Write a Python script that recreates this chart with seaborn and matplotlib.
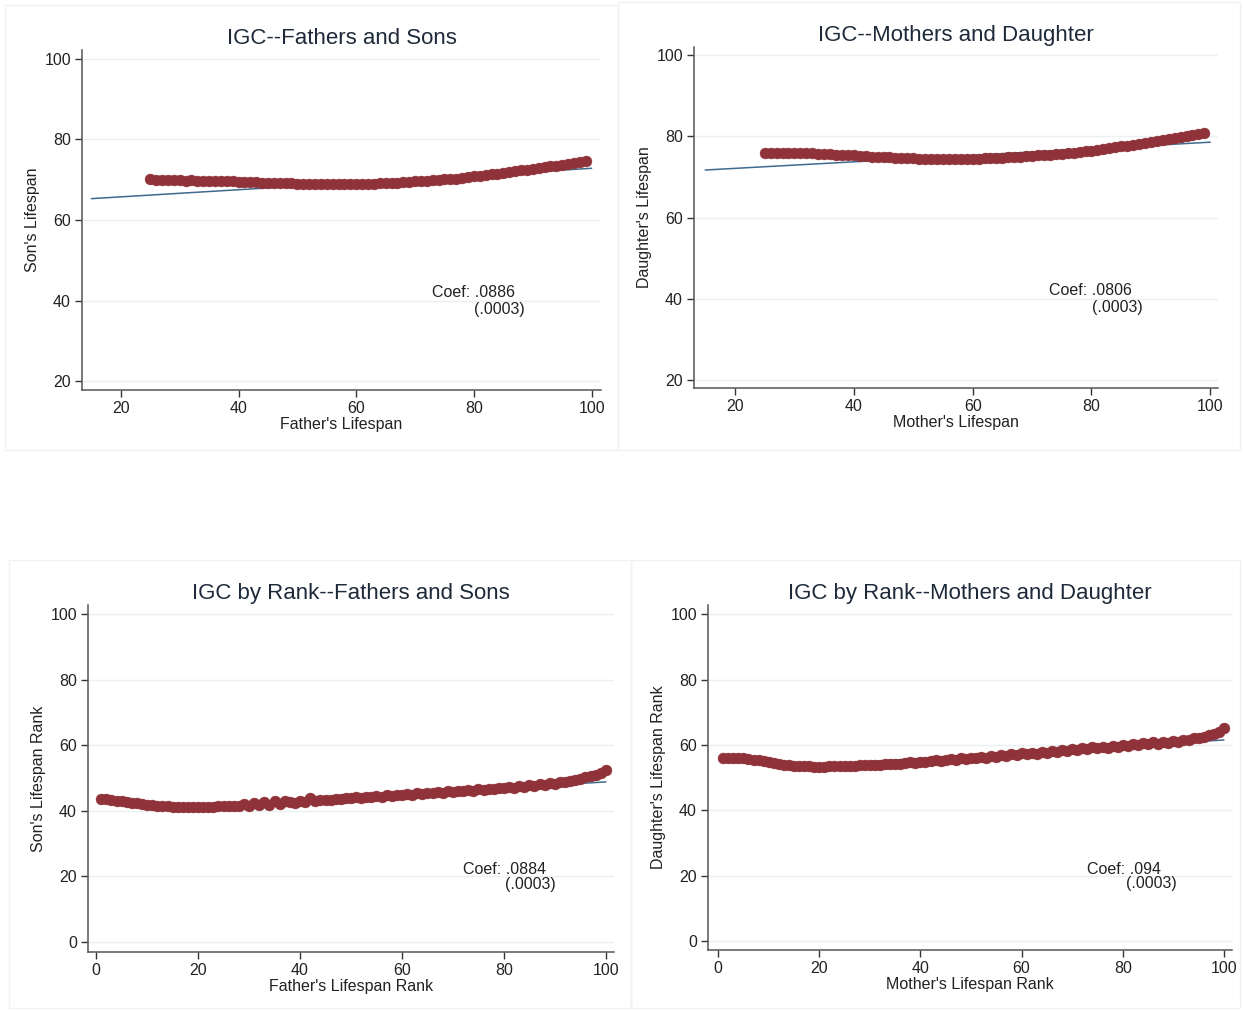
# plot.py
# Gráficos de IGC (4 painéis, estilo Stata) com seaborn

import numpy as np
import pandas as pd
import matplotlib
matplotlib.use('Agg')
import matplotlib.pyplot as plt
import seaborn as sns
from matplotlib.patches import Rectangle

# ---- dados ----
titulos = ['IGC--Fathers and Sons', 'IGC--Mothers and Daughter',
           'IGC by Rank--Fathers and Sons', 'IGC by Rank--Mothers and Daughter']
rotulos_x = ["Father's Lifespan", "Mother's Lifespan",
             "Father's Lifespan Rank", "Mother's Lifespan Rank"]
rotulos_y = ["Son's Lifespan", "Daughter's Lifespan",
             "Son's Lifespan Rank", "Daughter's Lifespan Rank"]
coefs = ['Coef: .0886', 'Coef: .0806', 'Coef: .0884', 'Coef: .094']
erros = ['(.0003)', '(.0003)', '(.0003)', '(.0003)']

idade_x = list(range(25, 100))
filhos_y = [70.2, 70.0, 70.0, 69.9, 69.9, 69.9, 69.8, 69.9, 69.8, 69.8,
            69.7, 69.7, 69.6, 69.6, 69.6, 69.5, 69.5, 69.4, 69.4, 69.3,
            69.3, 69.2, 69.2, 69.1, 69.1, 69.0, 69.0, 69.0, 68.9, 68.9,
            68.9, 68.9, 68.9, 68.9, 68.9, 68.9, 68.9, 69.0, 69.0, 69.1,
            69.1, 69.2, 69.3, 69.4, 69.5, 69.6, 69.7, 69.8, 69.9, 70.0,
            70.1, 70.2, 70.3, 70.5, 70.6, 70.8, 71.0, 71.1, 71.3, 71.5,
            71.7, 71.9, 72.1, 72.3, 72.5, 72.7, 72.9, 73.1, 73.3, 73.5,
            73.7, 73.9, 74.1, 74.3, 74.6]
filhas_y = [75.9, 76.0, 76.0, 76.0, 76.0, 75.9, 75.9, 75.8, 75.8, 75.7,
            75.7, 75.6, 75.5, 75.5, 75.4, 75.3, 75.2, 75.1, 75.0, 75.0,
            74.9, 74.8, 74.7, 74.7, 74.6, 74.6, 74.5, 74.5, 74.4, 74.4,
            74.4, 74.4, 74.4, 74.4, 74.5, 74.5, 74.5, 74.6, 74.6, 74.7,
            74.7, 74.8, 74.9, 75.0, 75.1, 75.2, 75.3, 75.4, 75.5, 75.6,
            75.7, 75.9, 76.0, 76.2, 76.3, 76.5, 76.7, 76.9, 77.1, 77.3,
            77.5, 77.7, 77.9, 78.1, 78.3, 78.6, 78.8, 79.0, 79.3, 79.5,
            79.8, 80.0, 80.3, 80.6, 80.9]

rank_x = list(range(1, 101))
rank_filhos_y = [43.7, 43.5, 43.3, 43.1, 42.9, 42.7, 42.5, 42.3, 42.1, 41.9,
                 41.8, 41.6, 41.5, 41.4, 41.3, 41.3, 41.2, 41.2, 41.2, 41.2,
                 41.2, 41.3, 41.3, 41.4, 41.4, 41.5, 41.6, 41.5, 42.0, 41.6,
                 42.3, 41.7, 42.8, 41.8, 43.1, 42.0, 43.0, 42.6, 42.4, 43.0,
                 42.6, 44.0, 42.9, 43.2, 43.4, 43.4, 43.6, 43.6, 43.8, 43.9,
                 44.1, 43.9, 44.3, 44.1, 44.5, 44.3, 44.7, 44.5, 44.9, 44.7,
                 45.1, 44.9, 45.3, 45.1, 45.5, 45.3, 45.7, 45.5, 45.9, 45.7,
                 46.1, 45.9, 46.3, 46.1, 46.6, 46.4, 46.8, 46.6, 47.1, 46.9,
                 47.3, 47.1, 47.6, 47.4, 47.9, 47.7, 48.1, 48.0, 48.4, 48.3,
                 48.7, 48.7, 49.1, 49.4, 49.8, 50.2, 50.6, 51.0, 51.5, 52.4]
rank_filhas_y = [55.9, 56.0, 56.0, 56.0, 55.9, 55.7, 55.5, 55.3, 55.0, 54.7,
                 54.4, 54.1, 53.9, 53.7, 53.6, 53.5, 53.4, 53.4, 53.3, 53.3,
                 53.3, 53.4, 53.4, 53.5, 53.5, 53.6, 53.6, 53.7, 53.8, 53.9,
                 54.0, 54.0, 54.3, 54.1, 54.3, 54.3, 54.5, 54.7, 54.5, 54.9,
                 54.8, 55.1, 55.3, 55.2, 55.5, 55.8, 55.5, 55.9, 55.8, 56.1,
                 55.9, 56.4, 56.1, 56.6, 56.3, 56.8, 56.6, 57.1, 56.8, 57.4,
                 57.1, 57.6, 57.3, 57.9, 57.6, 58.2, 57.9, 58.5, 58.0, 58.8,
                 58.3, 59.0, 58.6, 59.3, 58.9, 59.5, 59.2, 59.8, 59.4, 60.0,
                 59.7, 60.3, 59.9, 60.5, 60.2, 60.8, 60.4, 61.0, 60.7, 61.3,
                 61.0, 61.6, 61.4, 62.0, 62.1, 62.5, 62.9, 63.3, 64.0, 65.2]

# reta ajustada: intercepto, inclinação e faixa de x
interceptos = [63.97, 70.49, 39.96, 52.10]
inclinacoes = [0.0886, 0.0806, 0.0884, 0.094]
faixas_reta = [(15, 100), (15, 100), (14, 100), (30, 100)]

# ---- layout (pixels da figura) ----
W, H = 1243, 1011
caixas = [(82, 50, 601, 390), (694, 47, 1218, 388),
          (88, 605, 614, 952), (708, 605, 1232, 950)]
limites_x = [(13.4, 101.6), (13.1, 101.3), (-1.6, 101.6), (-2.0, 101.6)]
limites_y = [(17.8, 102.2), (18.0, 102.0), (-3.0, 102.7), (-2.75, 102.8)]
ticks_x = [[20, 40, 60, 80, 100]] * 2 + [[0, 20, 40, 60, 80, 100]] * 2
ticks_y = [[20, 40, 60, 80, 100]] * 2 + [[0, 20, 40, 60, 80, 100]] * 2
pos_coef = [(72.9, 41.9), (72.9, 41.9), (71.9, 22.0), (72.9, 22.0)]
desloc_erro = [15.7, 15.7, 18.2, 17.8]
bordas = [(5, 5, 618, 450), (618, 2, 1240, 450),
          (9, 560, 631, 1008), (631, 560, 1240, 1008)]

COR_PONTO = '#8f3239'
COR_RETA = '#3f6a8f'
COR_GRADE = '#e9f1f2'
COR_TEXTO = '#222222'

sns.set_style('white')
plt.rcParams['font.family'] = ['Liberation Sans', 'DejaVu Sans']

fig = plt.figure(figsize=(W / 100, H / 100), dpi=100)
fig.patch.set_facecolor('white')

# bordas claras de cada painel
for (x0, y0, x1, y1) in bordas:
    fig.patches.append(Rectangle((x0 / W, 1 - y1 / H), (x1 - x0) / W, (y1 - y0) / H,
                                 transform=fig.transFigure, fill=False,
                                 edgecolor='#f1f1f1', lw=1, zorder=0))

series = [(idade_x, filhos_y), (idade_x, filhas_y),
          (rank_x, rank_filhos_y), (rank_x, rank_filhas_y)]

for i in range(4):
    x0, y0, x1, y1 = caixas[i]
    ax = fig.add_axes([x0 / W, 1 - y1 / H, (x1 - x0) / W, (y1 - y0) / H])
    ax.set_facecolor('white')

    xs = np.array(faixas_reta[i])
    df_reta = pd.DataFrame({'x': xs, 'y': interceptos[i] + inclinacoes[i] * xs})
    sns.lineplot(data=df_reta, x='x', y='y', ax=ax, color=COR_RETA, lw=1.1, zorder=3)

    df = pd.DataFrame({'x': series[i][0], 'y': series[i][1]})
    sns.scatterplot(data=df, x='x', y='y', ax=ax, color=COR_PONTO, s=62,
                    edgecolor=COR_PONTO, linewidth=0.3, zorder=4)

    ax.set_xlim(*limites_x[i])
    ax.set_ylim(*limites_y[i])
    ax.set_xticks(ticks_x[i])
    ax.set_yticks(ticks_y[i])
    ax.set_xticklabels([str(t) for t in ticks_x[i]])
    ax.set_yticklabels([str(t) for t in ticks_y[i]])
    ax.tick_params(axis='both', direction='out', length=5, width=1, color='#333333',
                   labelsize=11.5, labelcolor=COR_TEXTO, pad=3, left=True, bottom=True)
    for t in ticks_y[i]:
        ax.axhline(t, color=COR_GRADE, lw=1, zorder=1)
    for lado in ['top', 'right']:
        ax.spines[lado].set_visible(False)
    for lado in ['left', 'bottom']:
        ax.spines[lado].set_color('#555555')
        ax.spines[lado].set_linewidth(1.1)

    ax.set_xlabel(rotulos_x[i], fontsize=11.5, color=COR_TEXTO, labelpad=1)
    ax.set_ylabel(rotulos_y[i], fontsize=11.5, color=COR_TEXTO, labelpad=3)
    ax.set_title(titulos[i], fontsize=16, color='#1e2a3a', pad=4)

    cx, cy = pos_coef[i]
    ax.text(cx, cy, coefs[i], fontsize=11.5, color=COR_TEXTO, ha='left', va='center')
    ax.text(cx + desloc_erro[i], cy - 4.0 * (1 if i < 2 else 1.1),
            erros[i], fontsize=11.5, color=COR_TEXTO, ha='right', va='center')

plt.savefig('out.png', dpi=100)
